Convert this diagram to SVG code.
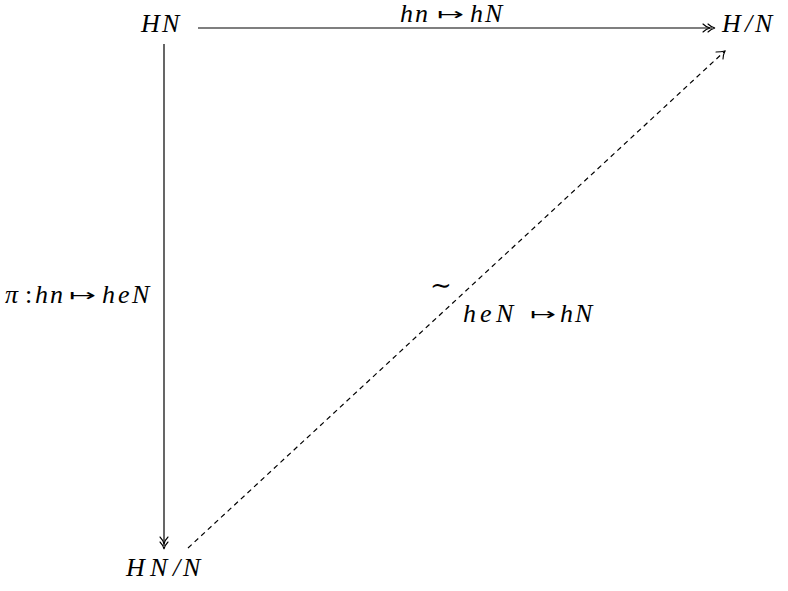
<svg xmlns="http://www.w3.org/2000/svg" width="788" height="591" viewBox="0 0 788 591">
<style>
text{font-family:"Liberation Serif","DejaVu Serif",serif;font-size:26px;fill:#000}
.i{font-style:italic}
.m{font-family:"DejaVu Sans",sans-serif;font-size:17px}
.ln{stroke:#000;stroke-width:1.2;fill:none}
.ah{stroke:#000;stroke-width:1.1;fill:none;stroke-linecap:round}
</style>
<rect width="788" height="591" fill="#fff"/>
<g id="n-HN">
<text x="141 162" y="32" class="i">HN</text>
</g>
<g id="n-HmodN">
<text x="722 745 755" y="32" class="i">H/N</text>
</g>
<g id="n-HNmodN">
<text x="126 150 173 183" y="576" class="i">HN/N</text>
</g>
<g id="edges">
<g id="e-top">
<line class="ln" x1="198" y1="28" x2="712" y2="28"/>
<path class="ah" d="M703,24 Q706,27 710,28 Q706,29 703,32"/>
<path class="ah" d="M708,24 Q711,27 715,28 Q711,29 708,32"/>
<text x="400 415" y="22" class="i" font-size="25">hn</text>
<text x="437" y="20" class="m" textLength="27" lengthAdjust="spacingAndGlyphs">↦</text>
<text x="470 485" y="22" class="i" font-size="25">hN</text>
</g>
<g id="e-left">
<line class="ln" x1="164" y1="44" x2="164" y2="546"/>
<path class="ah" d="M160,537 Q163,540 164,544 Q165,540 168,537"/>
<path class="ah" d="M160,542 Q163,545 164,549 Q165,545 168,542"/>
<text x="5" y="303" class="i">π</text>
<text x="25" y="303">:</text>
<text x="35 50" y="303" class="i">hn</text>
<text x="69" y="301" class="m" textLength="27" lengthAdjust="spacingAndGlyphs">↦</text>
<text x="102 118 132" y="303" class="i">heN</text>
</g>
<g id="e-diag">
<line class="ln" x1="188" y1="548" x2="725" y2="51" stroke-dasharray="5,4"/>
<path class="ah" d="M716,52 Q721,52 725,51 Q723,55 723,59"/>
<text x="441" y="294" text-anchor="middle" font-size="26">∼</text>
<text x="463 480 496" y="322" class="i">heN</text>
<text x="530" y="320" class="m" textLength="26" lengthAdjust="spacingAndGlyphs">↦</text>
<text x="560 575" y="322" class="i">hN</text>
</g>
</g>
</svg>
